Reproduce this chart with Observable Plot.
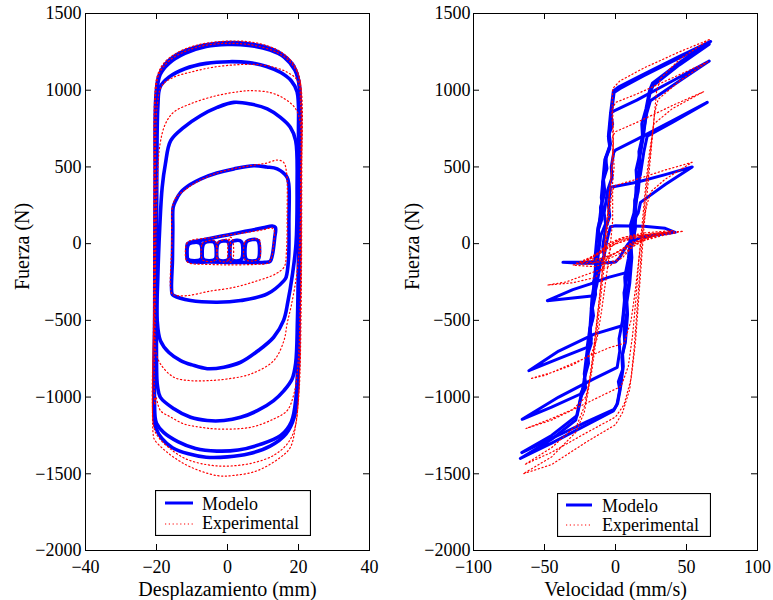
<!DOCTYPE html>
<html>
<head>
<meta charset="utf-8">
<script src="https://cdn.jsdelivr.net/npm/d3@7"></script>
<script src="https://cdn.jsdelivr.net/npm/@observablehq/plot@0.6"></script>
<style>
  body { margin: 0; background: #fff; }
  #wrap { position: relative; width: 773px; height: 600px; font-family: "Liberation Serif", "Times New Roman", serif; }
  .panel { position: absolute; top: 0; }
  .legend { position: absolute; }
</style>
</head>
<body>
<div id="wrap"></div>
<script>
// ---------- tick values and labels ----------
const despTicks = [-40, -20, 0, 20, 40];
const velTicks = [-100, -50, 0, 50, 100];
const fuerzaTicks = [-2000, -1500, -1000, -500, 0, 500, 1000, 1500];
const labelDesp = "Desplazamiento (mm)";
const labelVel = "Velocidad (mm/s)";
const labelFuerza = "Fuerza (N)";
const seriesNames = ["Modelo", "Experimental"];
const seriesColors = ["#0000ff", "#ff0000"];

// ---------- Fuerza vs desplazamiento: Modelo loops [mm, N] ----------
const modeloDesp = [
  [[-20.6,-1150],[-20.5,-400],[-20.4,400],[-20.2,950],[-19.4,1090],[-17.5,1170],[-14,1235],[-9,1280],[-4,1302],[1,1310],[6,1302],[11,1280],[15,1240],[18.3,1170],[19.8,1090],[20.3,1020],[20.4,400],[20.2,-400],[19.7,-950],[18.8,-1130],[16.5,-1240],[12,-1320],[6,-1370],[0,-1390],[-6,-1392],[-11,-1370],[-15.5,-1330],[-18.5,-1270],[-20.2,-1200]],
  [[-20.4,-1130],[-20.3,-300],[-20.2,500],[-20,960],[-19,1100],[-16.5,1175],[-12,1240],[-6,1285],[0,1298],[6,1292],[12,1262],[16,1215],[19,1130],[20.2,1030],[20.3,300],[20,-500],[19.3,-1000],[18,-1160],[15,-1250],[9,-1310],[3,-1345],[-3,-1352],[-9,-1335],[-14,-1290],[-18,-1230],[-20,-1170]],
  [[-19.9,-880],[-20,-200],[-19.9,500],[-19.6,900],[-19,1020],[-16.5,1085],[-12,1140],[-6,1175],[0.5,1186],[6,1180],[11,1155],[15,1115],[18,1060],[19.6,990],[20,700],[20,0],[19.7,-500],[19.2,-780],[18.2,-882],[15.9,-958],[13,-1023],[8.4,-1089],[3.7,-1132],[-1,-1153],[-5.7,-1153],[-10.4,-1132],[-15.1,-1076],[-18.9,-1002],[-19.7,-930]],
  [[-19.8,-500],[-19.6,-200],[-19.1,100],[-18.4,367],[-17.5,519],[-16,671],[-12.3,758],[-7.6,834],[-2.9,888],[1.8,921],[6.5,910],[11.2,878],[14.9,823],[17.7,758],[19.2,671],[19.6,345],[19.3,0],[18.3,-200],[17,-380],[15.8,-500],[13,-610],[8.5,-700],[3.7,-773],[-1,-805],[-5.7,-815],[-10,-790],[-13.2,-762],[-16.5,-710],[-18.9,-632]],
  [[-15.6,-328],[-15.5,-100],[-15.4,100],[-15.3,237],[-14.6,280],[-13.2,334],[-10.5,385],[-7.6,421],[-3,460],[1.8,487],[7.4,508],[11,500],[14,487],[16.8,432],[17.3,378],[17.3,150],[17.2,-100],[16.5,-220],[15.9,-241],[11.2,-328],[3.7,-371],[-2.9,-382],[-10.4,-371],[-15.1,-339]],
  [[-11.3,-100],[-11.3,-2],[-10.4,8],[-5,33],[0,57],[5,80],[10,103],[12.6,115],[13.5,106],[13.3,40],[12.6,-78],[12,-115],[10.5,-122],[5,-122],[0,-122],[-5,-120],[-10.4,-118],[-11.2,-111]],
  [[-11.3,-95],[-11.2,-15],[-10.6,2],[-8,6],[-7.4,-10],[-7.3,-95],[-7.9,-108],[-10.7,-108]],
  [[-7.0,-95],[-6.9,-10],[-6.3,8],[-3.9,12],[-3.4,-5],[-3.3,-95],[-3.9,-108],[-6.4,-108]],
  [[-2.9,-95],[-2.8,-5],[-2.2,12],[-0.2,16],[0.4,0],[0.4,-95],[-0.2,-110],[-2.3,-110]],
  [[0.8,-95],[0.9,0],[1.5,16],[3.5,20],[4.1,5],[4.1,-95],[3.5,-110],[1.4,-110]],
  [[5.1,-95],[5.2,5],[5.8,20],[8.2,26],[8.8,10],[8.8,-95],[8.2,-110],[5.7,-110]]
];

// ---------- Fuerza vs desplazamiento: Experimental loops [mm, N] ----------
const experimentalDesp = [
  [[-20.9,-1250],[-20.8,-400],[-20.7,400],[-20.5,950],[-19.8,1090],[-18,1175],[-14.5,1240],[-10,1285],[-5,1310],[0,1320],[5,1318],[10,1298],[15,1250],[18.5,1175],[20.3,1080],[20.8,900],[20.9,200],[20.7,-500],[20.2,-950],[19.2,-1180],[17.7,-1328],[14.9,-1393],[8.4,-1480],[2,-1510],[-2.9,-1512],[-10.4,-1456],[-15.1,-1393],[-18.5,-1330],[-20.5,-1280]],
  [[-20.7,-1200],[-20.6,-300],[-20.5,500],[-20.2,980],[-19.2,1110],[-16,1200],[-10,1270],[-4,1300],[2,1305],[8,1290],[14,1245],[18,1175],[20.4,1060],[20.7,300],[20.5,-500],[20,-1000],[19,-1200],[17,-1300],[13,-1380],[7,-1430],[0,-1450],[-6,-1440],[-12,-1400],[-16.5,-1330],[-19.5,-1260]],
  [[-20.5,-1050],[-20.5,-300],[-20.3,500],[-19.8,900],[-18.5,1030],[-15.2,1084],[-10,1120],[-4,1150],[2,1165],[8,1168],[13,1150],[17,1115],[19.8,1060],[20.6,900],[20.7,300],[20.5,-400],[19.8,-800],[18.7,-980],[16.8,-1088],[13,-1143],[6.5,-1197],[-2.9,-1208],[-8,-1195],[-12.3,-1175],[-16,-1130],[-18.9,-1088],[-20.2,-1000]],
  [[-20.4,-650],[-20.2,0],[-19.8,400],[-19,650],[-17.5,780],[-15.2,856],[-10,915],[-3,965],[3,990],[6.5,997],[12,985],[16,945],[19,885],[20.4,800],[20.6,400],[20.3,0],[19.5,-200],[18,-400],[16.8,-520],[15.9,-632],[13,-763],[6.5,-850],[-0.1,-882],[-5.7,-893],[-10.4,-893],[-15.1,-871],[-18.9,-784],[-20.3,-697]],
  [[-15.8,-320],[-15.7,0],[-15.5,240],[-14.5,300],[-12,350],[-8,410],[-3,460],[2,490],[7,510],[11,525],[14,545],[15.8,530],[16.6,470],[16.8,200],[16.6,-50],[16,-150],[13.5,-198],[8,-245],[1.8,-285],[-5,-310],[-11.4,-339],[-15,-335]],
  [[-11.6,-110],[-11.5,0],[-10.5,20],[-5,38],[0,55],[5,72],[10,90],[12.5,102],[13.2,80],[13,0],[12.4,-90],[11.5,-125],[8,-135],[0,-138],[-6,-135],[-10.5,-128]],
  [[0.3,-110],[0.3,20],[0.8,42],[1.4,30],[1.5,-105],[0.9,-120]],
  [[-7.2,-100],[-7.1,0],[-6,15],[-3.5,20],[-3.2,0],[-3.1,-95],[-4,-115],[-6.5,-112]],
  [[-2.7,-100],[-2.6,10],[-1,25],[0.5,28],[0.6,-100],[-0.5,-118],[-2,-115]],
  [[4.8,-100],[4.9,10],[6,22],[8.9,28],[9.2,0],[9,-95],[7.5,-112],[5.5,-110]]
];

// ---------- Fuerza vs velocidad: Modelo loops [mm/s, N] ----------
const modeloVel = [
  [[67,1318],[45,1220],[20,1105],[2,1020],[-1.5,995],[-3.5,850],[-2,780],[-5,700],[-4,640],[-7,560],[-6,490],[-9,400],[-8,320],[-10.6,235],[-9.5,160],[-12.5,80],[-11.5,0],[-14,-100],[-13,-170],[-15.5,-250],[-14.5,-330],[-17,-420],[-16,-490],[-18,-560],[-17.5,-630],[-19.5,-700],[-19,-780],[-22,-880],[-21,-940],[-24.5,-1000],[-28,-1150],[-45,-1275],[-67,-1400],[-45,-1300],[-20,-1180],[-1.5,-1090],[1,-1050],[3,-950],[2,-900],[5,-820],[4.5,-740],[6.5,-650],[6,-560],[8,-450],[7.5,-360],[9.5,-250],[9,-170],[11,-80],[10.5,-10],[12.5,60],[12,130],[14,200],[13.5,280],[15.5,350],[15,420],[17,500],[16.5,600],[19,700],[18.5,780],[21.5,880],[24,1000],[26,1045],[45,1180]],
  [[66,1300],[45,1210],[20,1095],[3,1010],[-1,985],[-3,840],[-4.5,720],[-3.5,650],[-6.5,560],[-8.5,420],[-7.5,340],[-10,250],[-12,90],[-11,20],[-13.5,-80],[-15,-260],[-14,-330],[-16.5,-430],[-18,-580],[-17,-650],[-19.5,-720],[-21.5,-860],[-24,-990],[-27,-1120],[-45,-1250],[-66,-1362],[-45,-1270],[-20,-1160],[-1,-1080],[1.5,-1040],[3.5,-940],[5.5,-800],[5,-720],[7,-640],[8.5,-460],[8,-380],[10,-260],[11.5,-90],[11,-20],[13,50],[14.5,190],[14,260],[16,340],[17.5,490],[17,560],[19.5,690],[22,870],[24.5,990],[26.5,1030],[45,1165]],
  [[66,1190],[40,1060],[15,935],[-1,865],[-3.5,850],[-5,700],[-4,620],[-7.5,550],[-10,300],[-9,230],[-12.5,100],[-14.5,-100],[-13.5,-180],[-16.5,-350],[-18,-550],[-17,-620],[-20,-700],[-22,-850],[-21,-910],[-24.6,-980],[-45,-1065],[-65.7,-1145],[-40,-1000],[-15,-880],[1.2,-806],[3,-700],[2.5,-620],[5,-500],[7,-300],[6.5,-220],[9,-100],[11,50],[10.5,120],[13,200],[15,400],[14.5,480],[17.5,600],[20,750],[22,850],[24.6,932],[45,1060]],
  [[64.6,921],[40,800],[15,680],[0,610],[-1.2,595],[-3,500],[-2.5,430],[-5.5,350],[-8,200],[-7,130],[-10.5,50],[-12.5,-100],[-11.5,-170],[-14.5,-250],[-16.5,-400],[-15.5,-470],[-18,-550],[-20,-676],[-40,-750],[-61,-828],[-40,-700],[-15,-590],[4.7,-535],[6.5,-400],[6,-320],[8.5,-200],[10.5,-50],[10,20],[12.5,100],[15,300],[14.5,370],[17.5,450],[20,600],[22.3,700],[40,790]],
  [[54,500],[35,450],[15,400],[-3.5,367],[-5,250],[-4,180],[-7,100],[-9,-20],[-8,-80],[-11,-150],[-13,-260],[-15,-339],[-30,-355],[-48,-372],[-30,-300],[-17.6,-262],[-5,-220],[8.2,-187],[10,-100],[9.5,-40],[12,0],[14,100],[13.5,160],[16,200],[17.6,269],[35,385]],
  [[42,74],[35,100],[20,113],[0,117],[-3.5,110],[-5,60],[-6.5,0],[-8,-80],[-10,-115],[-20,-120],[-37,-122],[-25,-127],[-10,-128],[0,-120],[3,-90],[6,-40],[9,0],[17.6,41],[30,58]]
];

// ---------- Fuerza vs velocidad: Experimental loops [mm/s, N] ----------
const experimentalVel = [
  [[66,1330],[45,1250],[20,1145],[3,1060],[-2,1010],[-2.5,850],[-1.5,650],[-3,450],[-5,250],[-7.5,0],[-10,-250],[-13,-500],[-16,-750],[-19,-950],[-22,-1100],[-28,-1230],[-45,-1390],[-65,-1500],[-45,-1440],[-20,-1290],[0,-1180],[5,-1100],[10,-950],[13,-700],[15,-450],[17,-200],[19,50],[21,300],[24,550],[27,800],[29,1000],[32,1080],[45,1200]],
  [[65,1185],[40,1080],[15,975],[0,920],[-2,880],[-1.5,700],[-2.5,500],[-4.5,300],[-7,50],[-9.5,-200],[-12.5,-450],[-15.5,-700],[-18.5,-900],[-21.5,-1050],[-27,-1180],[-45,-1330],[-64,-1440],[-45,-1360],[-20,-1230],[0,-1130],[6,-1050],[11,-880],[14,-650],[16,-400],[18,-150],[20,100],[22.5,350],[25,600],[27.5,850],[30,940],[45,1060]],
  [[62,990],[40,900],[15,790],[0,730],[-2,700],[-1,500],[-3,300],[-5.5,100],[-8,-150],[-11,-400],[-14,-650],[-17,-850],[-21,-1000],[-30,-1080],[-45,-1140],[-63,-1205],[-45,-1150],[-25,-1060],[-5,-970],[4,-930],[9,-800],[12,-600],[14.5,-350],[16.5,-100],[19,150],[21.5,400],[24,600],[27,780],[40,880]],
  [[54,530],[35,480],[15,420],[0,380],[-2,350],[-2,150],[-4,-50],[-7,-250],[-10,-450],[-13,-620],[-17,-720],[-30,-790],[-45,-840],[-60,-880],[-50,-860],[-35,-800],[-20,-740],[-5,-680],[6,-650],[11,-500],[14,-300],[16.5,-100],[19,100],[22,250],[25,340],[35,420]],
  [[47,80],[30,70],[15,50],[3,20],[-3,-20],[-6,-100],[-9,-160],[-14,-220],[-30,-255],[-48,-270],[-35,-250],[-20,-200],[-5,-150],[5,-90],[12,-20],[20,20],[32,50]],
  [[40,85],[20,70],[5,40],[-5,0],[-12,-60],[-20,-110],[-30,-140],[-15,-150],[0,-110],[8,-50],[15,0],[25,40]],
  [[30,60],[12,35],[0,0],[-10,-50],[-18,-100],[-8,-95],[3,-50],[12,0],[22,35]],
  [[35,75],[18,55],[3,25],[-8,-25],[-15,-80],[-25,-125],[-10,-120],[2,-70],[10,-20],[20,30]],
  [[25,55],[10,30],[-2,-10],[-12,-70],[-22,-115],[-12,-105],[0,-60],[8,-15],[18,25]],
  [[38,70],[22,60],[8,45],[0,15],[-8,-40],[-18,-90],[-28,-130],[-18,-135],[-6,-95],[4,-40],[12,10],[26,45]]
];

// ---------- helpers ----------
const toRows = loops => loops.flatMap((loop, k) => loop.map(([x, y]) => ({x, y, k})));
const fmt = d => d < 0 ? "\u2212" + Math.abs(d) : String(d);
const FONT = "Liberation Serif";
const H = 600, MT = 13, MB = 50;
const TICK = 6;

function panel({modelo, experimental, xTicks, xLabel, width, marginLeft, marginRight, yLabelDx, curve, yPad, blueWidth}) {
  const fw = width - marginLeft - marginRight;
  const fh = H - MT - MB;
  return Plot.plot({
    width, height: H, marginLeft, marginRight, marginTop: MT, marginBottom: MB,
    x: {domain: [xTicks[0], xTicks[xTicks.length - 1]]},
    y: {domain: [fuerzaTicks[0], fuerzaTicks[fuerzaTicks.length - 1]]},
    style: {fontFamily: FONT, fontSize: "18px", background: "white", color: "black", overflow: "visible"},
    marks: [
      Plot.line(toRows(modelo), {x: "x", y: "y", z: "k", stroke: seriesColors[0], strokeWidth: blueWidth, curve, strokeLinejoin: "round"}),
      Plot.line(toRows(experimental), {x: "x", y: "y", z: "k", stroke: seriesColors[1], strokeWidth: 1.2, strokeDasharray: "1.2,2.6", curve}),
      Plot.frame({stroke: "black", strokeWidth: 1}),
      Plot.tickX(xTicks, {x: d => d, insetTop: fh - TICK, stroke: "black"}),
      Plot.tickX(xTicks, {x: d => d, insetBottom: fh - TICK, stroke: "black"}),
      Plot.tickY(fuerzaTicks, {y: d => d, insetRight: fw - TICK, stroke: "black"}),
      Plot.tickY(fuerzaTicks, {y: d => d, insetLeft: fw - TICK, stroke: "black"}),
      Plot.axisX({ticks: xTicks, tickSize: 0, tickPadding: 10, tickFormat: fmt, label: null}),
      Plot.axisY({ticks: fuerzaTicks, tickSize: 0, tickPadding: yPad, tickFormat: fmt, label: null}),
      Plot.text([xLabel], {text: d => d, frameAnchor: "bottom", lineAnchor: "bottom", dy: 45, fontSize: 20}),
      Plot.text([labelFuerza], {text: d => d, frameAnchor: "left", rotate: -90, dx: yLabelDx, dy: 8, fontSize: 20})
    ]
  });
}

function legend(left, top, w, h, lineX1, lineX2, textX, rows) {
  const ns = "http://www.w3.org/2000/svg";
  const svg = document.createElementNS(ns, "svg");
  svg.setAttribute("width", w); svg.setAttribute("height", h);
  svg.setAttribute("class", "legend");
  svg.style.left = left + "px"; svg.style.top = top + "px";
  const r = document.createElementNS(ns, "rect");
  r.setAttribute("x", 0.5); r.setAttribute("y", 0.5); r.setAttribute("width", w - 1); r.setAttribute("height", h - 1);
  r.setAttribute("fill", "white"); r.setAttribute("stroke", "black"); r.setAttribute("stroke-width", 1.2);
  svg.appendChild(r);
  seriesNames.forEach((name, i) => {
    const ln = document.createElementNS(ns, "line");
    ln.setAttribute("x1", lineX1); ln.setAttribute("x2", lineX2);
    ln.setAttribute("y1", rows[i][0]); ln.setAttribute("y2", rows[i][0]);
    ln.setAttribute("stroke", seriesColors[i]);
    if (i === 0) ln.setAttribute("stroke-width", 3);
    else { ln.setAttribute("stroke-width", 1.2); ln.setAttribute("stroke-dasharray", "1.2,2.6"); }
    svg.appendChild(ln);
    const t = document.createElementNS(ns, "text");
    t.setAttribute("x", textX); t.setAttribute("y", rows[i][1]);
    t.setAttribute("font-family", FONT); t.setAttribute("font-size", 18);
    t.textContent = name;
    svg.appendChild(t);
  });
  return svg;
}

const wrap = document.getElementById("wrap");

const left = panel({modelo: modeloDesp, experimental: experimentalDesp, xTicks: despTicks, xLabel: labelDesp,
  width: 386, marginLeft: 85, marginRight: 17, yLabelDx: -63, curve: "catmull-rom-closed", yPad: 4, blueWidth: 3.6});
left.classList.add("panel"); left.style.left = "0px";
wrap.appendChild(left);

const right = panel({modelo: modeloVel, experimental: experimentalVel, xTicks: velTicks, xLabel: labelVel,
  width: 387, marginLeft: 87, marginRight: 16, yLabelDx: -61, curve: "linear-closed", yPad: 3, blueWidth: 3});
right.classList.add("panel"); right.style.left = "386px";
wrap.appendChild(right);

wrap.appendChild(legend(155, 490, 156, 46, 10, 38, 47, [[13, 19.5], [34, 38.7]]));
wrap.appendChild(legend(557, 493, 154, 44, 9, 35, 45, [[12, 18.5], [32, 38]]));
</script>
</body>
</html>
